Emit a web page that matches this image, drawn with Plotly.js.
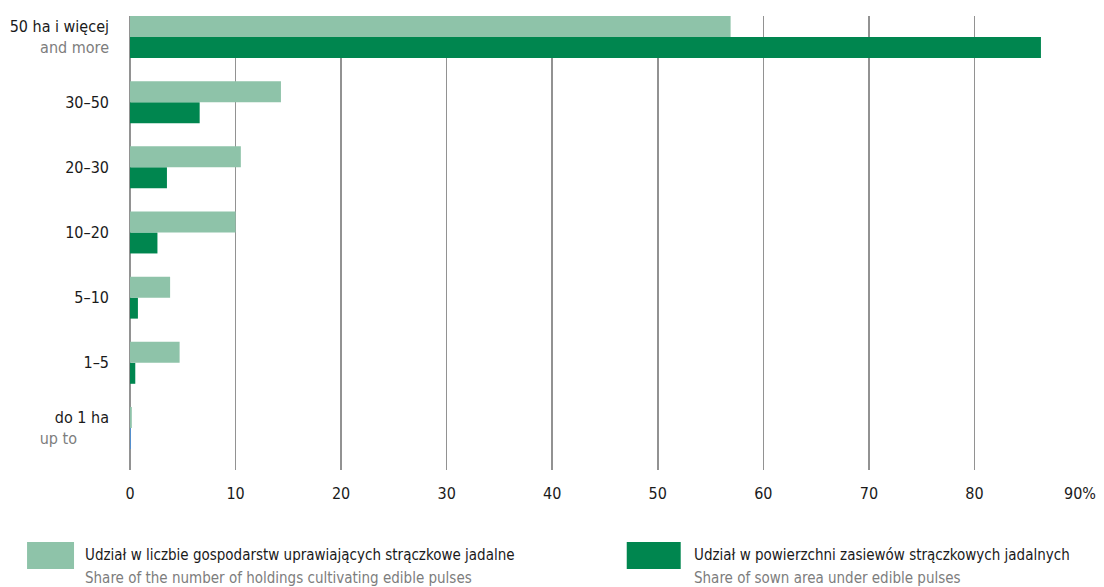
<!DOCTYPE html>
<html>
<head>
<meta charset="utf-8">
<script src="https://cdn.plot.ly/plotly-3.0.1.min.js"></script>
<style>html,body{margin:0;padding:0;background:#fff;}#chart{width:1104px;height:587px;}</style>
</head>
<body>
<div id="chart"></div>
<script>
// Data (listed bottom to top)
const categoriesPL = ["do 1 ha", "1–5", "5–10", "10–20", "20–30", "30–50", "50 ha i więcej"];
const categoriesEN = ["up to", "", "", "", "", "", "and more"];
const holdingsShare = [0.17, 4.7, 3.8, 10.0, 10.5, 14.3, 56.9];
const areaShare = [0.08, 0.5, 0.75, 2.6, 3.5, 6.6, 86.3];
const xTickVals = [0, 10, 20, 30, 40, 50, 60, 70, 80, 90];
const xTickText = ["0", "10", "20", "30", "40", "50", "60", "70", "80", "90%"];
const seriesPL = ["Udział w liczbie gospodarstw uprawiających strączkowe jadalne", "Udział w powierzchni zasiewów strączkowych jadalnych"];
const seriesEN = ["Share of the number of holdings cultivating edible pulses", "Share of sown area under edible pulses"];

const LIGHT = "#8ec3a9", DARK = "#00864f", GRAY = "#7d7d7d", TXT = "#1a1a1a";
const FONT = "DejaVu Sans Condensed, sans-serif";
// the smallest area bar is drawn blue in the original
const areaColors = categoriesPL.map((c, i) => i === 0 ? "#4a90d9" : DARK);

const tickText = categoriesPL.map((c, i) => {
  if (!categoriesEN[i]) return c;
  let en = categoriesEN[i];
  if (en === "up to") en = en + "\u00a0".repeat(7);
  return c + "<br><span style='color:" + GRAY + "'>" + en + "</span>";
});

const W = 1104, H = 587;
const M = {l: 130, r: 23.5, t: 16, b: 117};
const PW = W - M.l - M.r, PH = H - M.t - M.b;
const px2x = px => (px - M.l) / PW;
const px2y = py => (H - M.b - py) / PH;

const traces = [
  {type: "bar", orientation: "h", y: categoriesPL, x: areaShare, name: seriesPL[1],
   marker: {color: areaColors}, hoverinfo: "x+y"},
  {type: "bar", orientation: "h", y: categoriesPL, x: holdingsShare, name: seriesPL[0],
   marker: {color: LIGHT}, hoverinfo: "x+y"}
];

const legendItems = [
  {color: LIGHT, x0: 27, x1: 74, tx: 83, pl: seriesPL[0], en: seriesEN[0]},
  {color: DARK, x0: 627, x1: 681, tx: 692, pl: seriesPL[1], en: seriesEN[1]}
];

const shapes = legendItems.map(it => ({
  type: "rect", xref: "paper", yref: "paper",
  x0: px2x(it.x0), x1: px2x(it.x1), y0: px2y(569), y1: px2y(542),
  fillcolor: it.color, line: {width: 0}
}));
const annotations = [];
legendItems.forEach(it => {
  annotations.push({
    xref: "paper", yref: "paper", x: px2x(it.tx), y: px2y(555),
    xanchor: "left", yanchor: "middle", align: "left", showarrow: false,
    text: it.pl, font: {family: FONT, size: 15, color: TXT}
  });
  annotations.push({
    xref: "paper", yref: "paper", x: px2x(it.tx), y: px2y(578),
    xanchor: "left", yanchor: "middle", align: "left", showarrow: false,
    text: it.en, font: {family: FONT, size: 15, color: GRAY}
  });
});

const layout = {
  width: W, height: H,
  margin: M,
  paper_bgcolor: "#fff", plot_bgcolor: "#fff",
  barmode: "group", bargap: 0.356, bargroupgap: 0,
  showlegend: false,
  font: {family: FONT, size: 16, color: TXT},
  xaxis: {
    range: [0, 90], tickvals: xTickVals, ticktext: xTickText,
    showgrid: true, gridcolor: "#929292", gridwidth: 1.5,
    zeroline: true, zerolinecolor: "#929292", zerolinewidth: 1.5,
    showline: false, ticks: "", ticklabelstandoff: 12,
    tickfont: {family: FONT, size: 16, color: TXT}, fixedrange: true
  },
  yaxis: {
    type: "category", categoryorder: "array", categoryarray: categoriesPL,
    tickvals: categoriesPL, ticktext: tickText,
    range: [-0.645, 6.322], showgrid: false, zeroline: false, showline: false,
    ticks: "", ticklabelstandoff: 20,
    tickfont: {family: FONT, size: 16, color: TXT}, fixedrange: true
  },
  shapes: shapes,
  annotations: annotations
};

Plotly.newPlot("chart", traces, layout, {displayModeBar: false, staticPlot: true});
</script>
</body>
</html>
